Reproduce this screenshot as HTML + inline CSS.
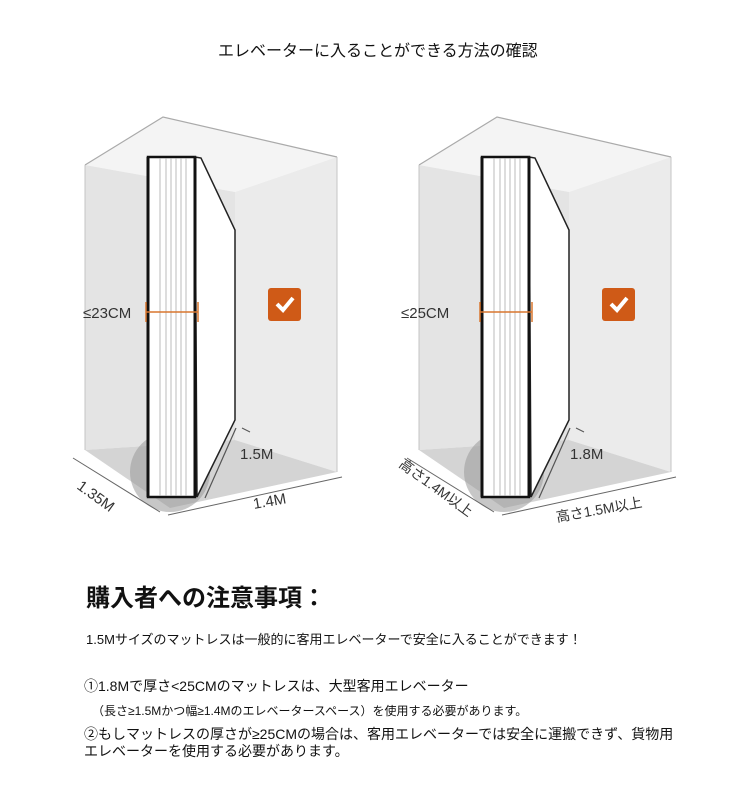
<!DOCTYPE html>
<html><head><meta charset="utf-8"><style>
body{margin:0;width:750px;height:793px;background:#fff;font-family:"Liberation Sans","Noto Sans CJK JP",sans-serif;position:relative;overflow:hidden}
.t{position:absolute;white-space:nowrap;color:#111}
</style></head><body>
<svg width="750" height="560" style="position:absolute;left:0;top:0" font-family="Liberation Sans, Noto Sans CJK JP, sans-serif">
<defs>
<g id="box">
<polygon points="163,117 85,165 235,192 337,157" fill="#f4f4f4"/>
<polygon points="85,165 235,192 235,440 85,450" fill="#e4e4e4"/>
<polygon points="235,192 337,157 337,472 235,440" fill="#ebebeb"/>
<polygon points="85,450 235,440 337,472 170,508" fill="#d4d4d4"/>
<polyline points="85,165 163,117 337,157" fill="none" stroke="#aaa" stroke-width="1.2"/>
<line x1="85" y1="165" x2="85" y2="450" stroke="#c4c4c4"/>
<line x1="337" y1="157" x2="337" y2="472" stroke="#c4c4c4"/>
<circle cx="170" cy="472" r="40" fill="#999" opacity="0.55"/>
<rect x="148" y="157" width="47" height="340" fill="#fff" stroke="#111" stroke-width="2.5"/>
<g stroke="#aaa" stroke-width="0.8"><line x1="160" y1="158" x2="160" y2="496"/><line x1="166" y1="158" x2="166" y2="496"/><line x1="171" y1="158" x2="171" y2="496"/><line x1="176" y1="158" x2="176" y2="496"/><line x1="181" y1="158" x2="181" y2="496"/><line x1="186" y1="158" x2="186" y2="496"/></g>
<polygon points="195,157 201,158 235,230 235,420 197,497" fill="#fff" stroke="#222" stroke-width="1.5"/>
<line x1="148" y1="157" x2="148" y2="497" stroke="#111" stroke-width="3"/>
<line x1="195" y1="157" x2="195" y2="497" stroke="#111" stroke-width="3"/>
<line x1="146" y1="312" x2="198" y2="312" stroke="#d9772f" stroke-width="1.5"/>
<line x1="146" y1="302" x2="146" y2="322" stroke="#d9772f" stroke-width="1.5"/>
<line x1="198" y1="302" x2="198" y2="322" stroke="#d9772f" stroke-width="1.5"/>
<rect x="268" y="288" width="33" height="33" rx="3" fill="#cf5a17"/>
<polyline points="277,304 283,310 293,298" fill="none" stroke="#fff" stroke-width="4"/>
<line x1="236" y1="428" x2="205" y2="498" stroke="#555" stroke-width="1.2"/>
<line x1="242" y1="428" x2="250" y2="432" stroke="#555"/>
<line x1="73" y1="458" x2="160" y2="512" stroke="#666"/>
<line x1="168" y1="515" x2="342" y2="477" stroke="#666"/>
</g>
</defs>
<use href="#box"/>
<use href="#box" transform="translate(334,0)"/>
<g fill="#333" font-size="15">
<text x="83" y="318">≤23CM</text>
<text x="240" y="459">1.5M</text>
<text x="254" y="509" transform="rotate(-10 254 509)">1.4M</text>
<text x="76" y="488" transform="rotate(36 76 488)">1.35M</text>
<text x="401" y="318">≤25CM</text>
<text x="570" y="459">1.8M</text>
<text x="557" y="522" transform="rotate(-10 557 522)" font-size="14">高さ1.5M以上</text>
<text x="398" y="466" transform="rotate(36 398 466)" font-size="14">高さ1.4M以上</text>
</g>
</svg>
<div class="t" style="left:218px;top:37px;font-size:16px">エレベーターに入ることができる方法の確認</div>
<div class="t" style="left:86px;top:578px;font-size:24px;font-weight:bold">購入者への注意事項：</div>
<div class="t" style="left:86px;top:629px;font-size:13px">1.5Mサイズのマットレスは一般的に客用エレベーターで安全に入ることができます！</div>
<div class="t" style="left:84px;top:676px;font-size:14px">①1.8Mで厚さ&lt;25CMのマットレスは、大型客用エレベーター</div>
<div class="t" style="left:92px;top:702px;font-size:12px">（長さ≥1.5Mかつ幅≥1.4Mのエレベータースペース）を使用する必要があります。</div>
<div class="t" style="left:84px;top:726px;font-size:14px;line-height:17px">②もしマットレスの厚さが≥25CMの場合は、客用エレベーターでは安全に運搬できず、貨物用<br>エレベーターを使用する必要があります。</div>
</body></html>
